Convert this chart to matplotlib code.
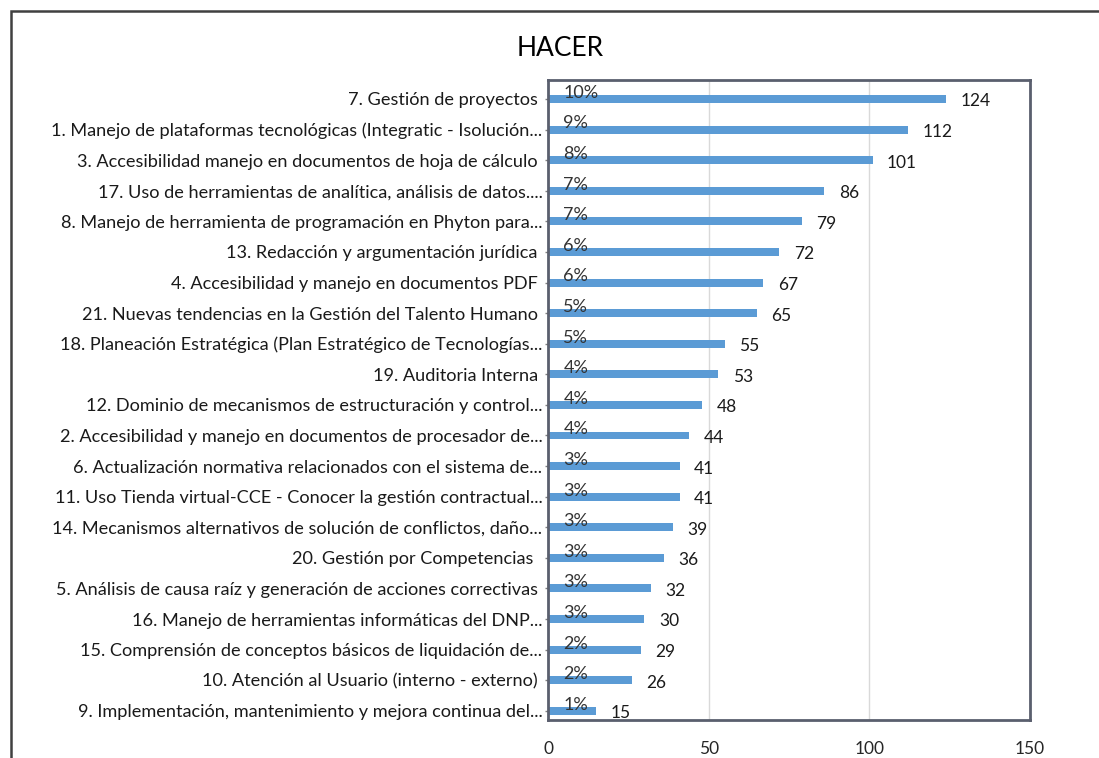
import matplotlib
matplotlib.use("Agg")
import matplotlib.pyplot as plt
from matplotlib.patches import Rectangle

plt.rcParams['font.family'] = ['Lato', 'DejaVu Sans']

categories = [
    "7. Gestión de proyectos ",
    "1. Manejo de plataformas tecnológicas (Integratic - Isolución...",
    "3. Accesibilidad manejo en documentos de hoja de cálculo ",
    "17. Uso de herramientas de analítica, análisis de datos....",
    "8. Manejo de herramienta de programación en Phyton para...",
    "13. Redacción y argumentación jurídica ",
    "4. Accesibilidad y manejo en documentos PDF ",
    "21. Nuevas tendencias en la Gestión del Talento Humano ",
    "18. Planeación Estratégica (Plan Estratégico de Tecnologías...",
    "19. Auditoria Interna ",
    "12. Dominio de mecanismos de estructuración y control...",
    "2. Accesibilidad y manejo en documentos de procesador de...",
    "6. Actualización normativa relacionados con el sistema de...",
    "11. Uso Tienda virtual-CCE - Conocer la gestión contractual...",
    "14. Mecanismos alternativos de solución de conflictos, daño...",
    "20. Gestión por Competencias  ",
    "5. Análisis de causa raíz y generación de acciones correctivas ",
    "16. Manejo de herramientas informáticas del DNP...",
    "15. Comprensión de conceptos básicos de liquidación de...",
    "10. Atención al Usuario (interno - externo) ",
    "9. Implementación, mantenimiento y mejora continua del...",
]
values = [124, 112, 101, 86, 79, 72, 67, 65, 55, 53, 48, 44, 41, 41, 39, 36, 32, 30, 29, 26, 15]
percents = ["10%", "9%", "8%", "7%", "7%", "6%", "6%", "5%", "5%", "4%", "4%", "4%",
            "3%", "3%", "3%", "3%", "3%", "3%", "2%", "2%", "1%"]
xticks = [0, 50, 100, 150]
title = "HACER"

n = len(categories)
ypos = [n - 1 - i for i in range(n)]

fig = plt.figure(figsize=(10.99, 7.58), dpi=100)
fig.patches.append(Rectangle((11 / 1099, -0.1), 1.2, 1 - 11 / 758 + 0.1,
                             transform=fig.transFigure, fill=False,
                             edgecolor='#404040', linewidth=1.8))

ax = fig.add_axes([548 / 1099, 1 - 720 / 758, (1030 - 548) / 1099, (720 - 80) / 758])
bar_color = '#5B9BD5'
ax.barh(ypos, values, height=0.26, color=bar_color, zorder=2)

ax.set_xlim(0, 150)
ax.set_ylim(-0.3, n - 1 + 0.62)
ax.set_xticks(xticks)
ax.set_xticklabels([str(t) for t in xticks])
ax.set_yticks(ypos)
ax.set_yticklabels(categories)
ax.xaxis.grid(True, color='#d9d9d9', linewidth=1.0, zorder=0)
ax.set_axisbelow(True)

for s in ax.spines.values():
    s.set_color('#5a5f6e')
    s.set_linewidth(2.0)

ax.tick_params(axis='x', length=0, pad=15, labelsize=12.5, labelcolor='#262626')
ax.tick_params(axis='y', length=2, width=1, color='#808080', pad=2,
               labelsize=13.1, labelcolor='#1a1a1a')

for y, v, p in zip(ypos, values, percents):
    ax.text(v + 4.5, y - 0.08, str(v), ha='left', va='center', fontsize=12.5, color='#1a1a1a')
    ax.text(4.8, y + 0.2, p, ha='left', va='center', fontsize=13, color='#333333', zorder=3)

fig.text(560 / 1099, 1 - 48 / 758, title, ha='center', va='center', fontsize=19, color='#000000')

fig.savefig("out.png", dpi=100)
